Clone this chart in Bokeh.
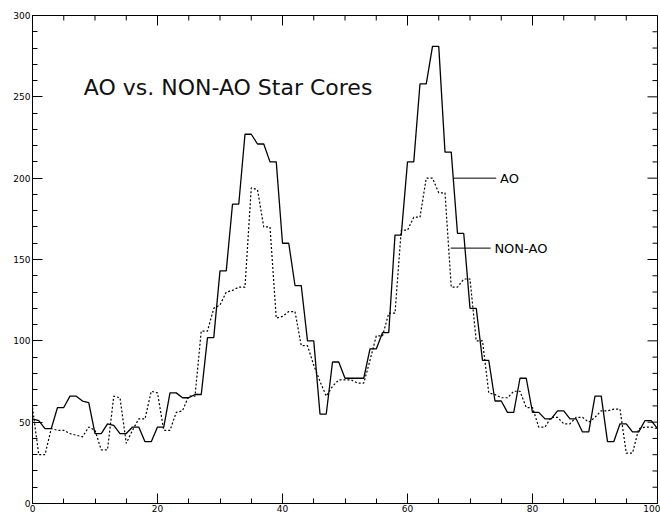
import math
from bokeh.plotting import figure
from bokeh.models import SingleIntervalTicker, Label, Range1d
from bokeh.embed import file_html
from bokeh.resources import INLINE

# ---- data ----
pixel = list(range(101))
ao = [52, 51, 46, 46, 59, 59, 66, 66, 63, 62,
      43, 43, 49, 48, 43, 43, 47, 47, 38, 38,
      47, 47, 68, 68, 65, 65, 67, 67, 102, 102,
      143, 143, 184, 184, 227, 227, 221, 221, 210, 210,
      160, 160, 134, 134, 100, 100, 55, 55, 87, 87,
      77, 77, 77, 77, 95, 95, 105, 105, 165, 165,
      210, 210, 258, 258, 281, 281, 216, 216, 166, 166,
      120, 120, 88, 88, 63, 63, 56, 56, 77, 77,
      56, 56, 52, 52, 57, 57, 52, 52, 44, 44,
      66, 66, 38, 38, 49, 49, 44, 44, 51, 51,
      46]
non_ao = [59, 30, 30, 46, 45, 45, 43, 42, 41, 47,
          45, 33, 33, 66, 65, 37, 45, 52, 52, 69,
          68, 45, 45, 56, 57, 66, 66, 106, 106, 120,
          122, 130, 131, 133, 133, 194, 193, 170, 170, 114,
          115, 118, 118, 97, 97, 85, 75, 66, 72, 76,
          76, 76, 74, 74, 88, 103, 103, 117, 117, 168,
          168, 176, 176, 200, 200, 191, 191, 133, 133, 138,
          138, 100, 100, 68, 67, 65, 65, 69, 69, 59,
          59, 47, 47, 53, 53, 49, 49, 53, 53, 50,
          53, 57, 57, 58, 58, 31, 31, 46, 47, 47,
          46]
title_text = "AO vs. NON-AO Star Cores"
label_ao = "AO"
label_non_ao = "NON-AO"

X_MAX, Y_MAX = 100, 300
X_MAJOR, X_MINOR = 20, 5
Y_MAJOR, Y_MINOR = 50, 10

p = figure(width=660, height=515, x_range=Range1d(0, X_MAX), y_range=Range1d(0, Y_MAX),
           output_backend="svg", toolbar_location=None,
           min_border_left=32, min_border_right=3, min_border_top=15, min_border_bottom=12)
p.background_fill_color = "white"
p.border_fill_color = "white"
p.outline_line_color = "black"
p.outline_line_width = 1
p.xgrid.visible = False
p.ygrid.visible = False

p.xaxis.ticker = SingleIntervalTicker(interval=X_MAJOR, num_minor_ticks=X_MAJOR // X_MINOR)
p.yaxis.ticker = SingleIntervalTicker(interval=Y_MAJOR, num_minor_ticks=Y_MAJOR // Y_MINOR)
for ax in (p.xaxis[0], p.yaxis[0]):
    ax.axis_line_color = "black"
    ax.major_tick_line_color = "black"
    ax.minor_tick_line_color = "black"
    ax.major_tick_in = 10
    ax.major_tick_out = 0
    ax.minor_tick_in = 5
    ax.minor_tick_out = 0
    ax.major_label_standoff = 2
    ax.major_label_text_font = "DejaVu Sans"
    ax.major_label_text_font_size = "9px"
    ax.major_label_text_color = "black"
p.xaxis[0].major_label_standoff = 1

# inward tick marks on the top and right edges of the box
x_major = list(range(0, X_MAX + 1, X_MAJOR))
x_minor = [v for v in range(0, X_MAX + 1, X_MINOR) if v % X_MAJOR]
y_major = list(range(0, Y_MAX + 1, Y_MAJOR))
y_minor = [v for v in range(0, Y_MAX + 1, Y_MINOR) if v % Y_MAJOR]
p.ray(x=x_major, y=[Y_MAX] * len(x_major), length=10, length_units="screen",
      angle=-math.pi / 2, line_color="black", line_width=1)
p.ray(x=x_minor, y=[Y_MAX] * len(x_minor), length=5, length_units="screen",
      angle=-math.pi / 2, line_color="black", line_width=1)
p.ray(x=[X_MAX] * len(y_major), y=y_major, length=10, length_units="screen",
      angle=math.pi, line_color="black", line_width=1)
p.ray(x=[X_MAX] * len(y_minor), y=y_minor, length=5, length_units="screen",
      angle=math.pi, line_color="black", line_width=1)

p.line(pixel, ao, line_color="black", line_width=1.3)
p.line(pixel, non_ao, line_color="black", line_width=1.2, line_dash="2 2")

# leader lines for the curve labels
p.segment(x0=[67.4, 66.9], y0=[200, 157], x1=[74.2, 73.3], y1=[200, 157],
          line_color="black", line_width=1)

p.add_layout(Label(x=8.2, y=256, text=title_text, text_font="DejaVu Sans",
                   text_font_size="22px", text_color="#111111", text_baseline="alphabetic"))
p.add_layout(Label(x=74.8, y=200, text=label_ao, text_font="DejaVu Sans",
                   text_font_size="13px", text_color="black", text_baseline="middle"))
p.add_layout(Label(x=73.9, y=157, text=label_non_ao, text_font="DejaVu Sans",
                   text_font_size="13px", text_color="black", text_baseline="middle"))

open("out.html", "w").write(file_html(p, INLINE))
